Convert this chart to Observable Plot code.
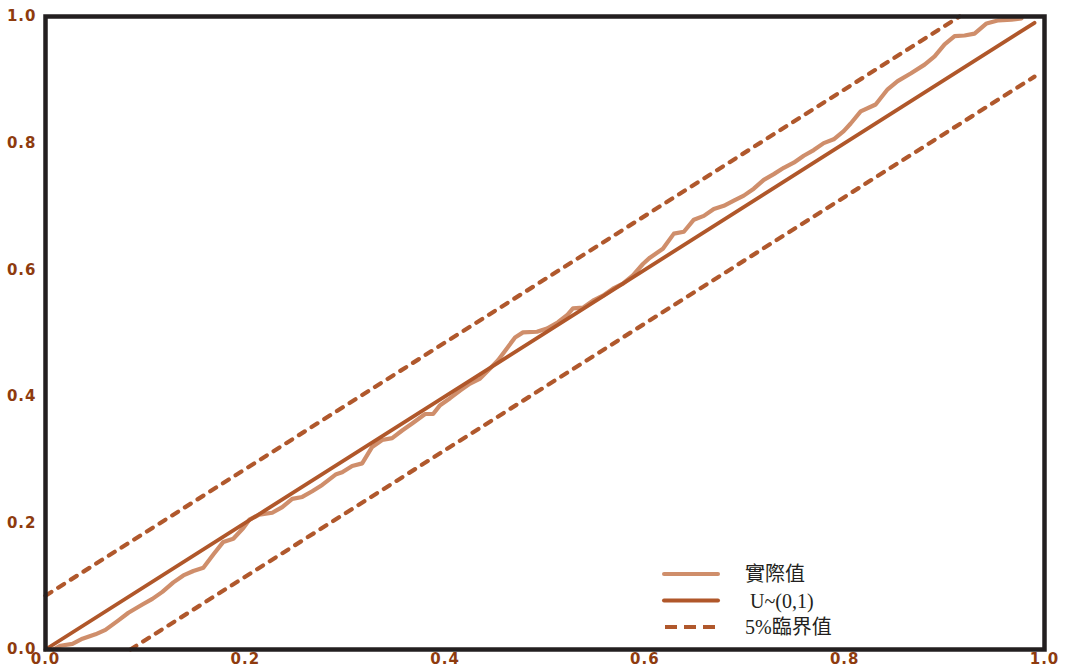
<!DOCTYPE html>
<html>
<head>
<meta charset="utf-8">
<script src="https://cdn.jsdelivr.net/npm/d3@7"></script>
<script src="https://cdn.jsdelivr.net/npm/@observablehq/plot@0.6"></script>
<style>
  html, body { margin: 0; padding: 0; background: #fff; }
  #wrap { position: relative; width: 1066px; height: 667px; }
  #legend { position: absolute; left: 655px; top: 556px; }
</style>
</head>
<body>
<div id="wrap"></div>
<script>
// ---- data ----
const actualX = [0.008,0.015,0.027,0.037,0.050,0.060,0.073,0.083,0.097,0.107,0.117,0.128,0.138,0.148,0.158,0.168,0.178,0.188,0.198,0.204,0.214,0.227,0.237,0.247,0.257,0.267,0.277,0.291,0.297,0.307,0.317,0.327,0.337,0.347,0.357,0.367,0.380,0.388,0.395,0.405,0.415,0.425,0.435,0.445,0.453,0.462,0.470,0.478,0.492,0.502,0.513,0.522,0.528,0.538,0.548,0.558,0.568,0.578,0.588,0.598,0.605,0.618,0.629,0.639,0.649,0.659,0.669,0.679,0.689,0.699,0.709,0.719,0.729,0.739,0.749,0.759,0.769,0.779,0.789,0.799,0.806,0.816,0.831,0.843,0.853,0.866,0.880,0.890,0.900,0.910,0.920,0.930,0.942,0.954,0.967,0.977];
const actualY = [0.000,0.006,0.009,0.017,0.024,0.031,0.046,0.058,0.071,0.080,0.091,0.106,0.117,0.124,0.129,0.150,0.170,0.175,0.192,0.205,0.213,0.216,0.225,0.238,0.241,0.250,0.260,0.277,0.280,0.290,0.294,0.320,0.331,0.334,0.346,0.357,0.372,0.372,0.386,0.397,0.409,0.420,0.428,0.444,0.457,0.476,0.493,0.501,0.502,0.507,0.517,0.528,0.539,0.540,0.551,0.559,0.570,0.578,0.591,0.609,0.619,0.633,0.657,0.660,0.679,0.685,0.696,0.701,0.709,0.717,0.728,0.742,0.751,0.761,0.769,0.780,0.789,0.800,0.806,0.819,0.831,0.850,0.861,0.885,0.898,0.910,0.924,0.937,0.956,0.969,0.970,0.973,0.989,0.994,0.995,0.997];
const uniformX = [0, 0.99];
const uniformY = [0, 0.99];
const upperX = [0, 0.915];
const upperY = [0.085, 1.0];
const lowerX = [0.085, 0.99];
const lowerY = [0, 0.905];
const xTicks = [0, 0.2, 0.4, 0.6, 0.8, 1.0];
const yTicks = [0, 0.2, 0.4, 0.6, 0.8, 1.0];
const legendLabels = ["實際值", " U~(0,1)", "5%臨界值"];

// ---- styles ----
const cActual = "#cf8e6b";
const cUniform = "#b0572a";
const cCrit = "#b0582c";
const cLabel = "#8e3b0e";

const toPts = (xs, ys) => xs.map((x, i) => ({x, y: ys[i]}));
const actual = toPts(actualX, actualY);
const uniform = toPts(uniformX, uniformY);
const upper = toPts(upperX, upperY);
const lower = toPts(lowerX, lowerY);

const fmt = d3.format(".1f");
const axisFont = {fill: cLabel, fontSize: 15, fontWeight: 900, fontFamily: "'DejaVu Sans', sans-serif"};

const chart = Plot.plot({
  width: 1066,
  height: 667,
  marginLeft: 45,
  marginRight: 22,
  marginTop: 16,
  marginBottom: 18,
  style: {background: "#fff"},
  x: {domain: [0, 1], label: null},
  y: {domain: [0, 1], label: null},
  marks: [
    Plot.line(upper, {x: "x", y: "y", stroke: cCrit, strokeWidth: 4.2, strokeDasharray: "7,8", strokeLinecap: "round"}),
    Plot.line(lower, {x: "x", y: "y", stroke: cCrit, strokeWidth: 4.2, strokeDasharray: "7,8", strokeLinecap: "round"}),
    Plot.line(actual, {x: "x", y: "y", stroke: cActual, strokeWidth: 4.2, strokeLinejoin: "round", strokeLinecap: "round"}),
    Plot.line(uniform, {x: "x", y: "y", stroke: cUniform, strokeWidth: 3.8, strokeLinecap: "round"}),
    Plot.frame({stroke: "#231f20", strokeWidth: 4.5}),
    Plot.axisX({ticks: xTicks, tickFormat: fmt, tickSize: 0, tickPadding: 4, label: null, ...axisFont}),
    Plot.axisY({ticks: yTicks, tickFormat: fmt, tickSize: 0, tickPadding: 9, label: null, ...axisFont})
  ]
});
const wrap = document.getElementById("wrap");
wrap.appendChild(chart);
chart.querySelectorAll("text").forEach(t => t.style.letterSpacing = "1px");

// ---- legend (overlay) ----
const ns = "http://www.w3.org/2000/svg";
const lg = document.createElementNS(ns, "svg");
lg.setAttribute("id", "legend");
lg.setAttribute("width", 220);
lg.setAttribute("height", 88);
const rows = [
  {label: legendLabels[0], stroke: cActual, dash: null},
  {label: legendLabels[1], stroke: cUniform, dash: null},
  {label: legendLabels[2], stroke: cCrit, dash: "12,7"}
];
rows.forEach((r, i) => {
  const cy = 18 + i * 26.5;
  const l = document.createElementNS(ns, "line");
  l.setAttribute("x1", 9); l.setAttribute("x2", 63);
  l.setAttribute("y1", cy); l.setAttribute("y2", cy);
  l.setAttribute("stroke", r.stroke);
  l.setAttribute("stroke-width", 4);
  l.setAttribute("stroke-linecap", "round");
  if (r.dash) { l.setAttribute("stroke-dasharray", r.dash); l.setAttribute("stroke-linecap", "butt"); l.setAttribute("x1", 10); l.setAttribute("x2", 66); }
  lg.appendChild(l);
  const t = document.createElementNS(ns, "text");
  t.setAttribute("x", 90);
  t.setAttribute("y", cy);
  t.setAttribute("dy", "0.35em");
  t.setAttribute("fill", "#231f20");
  t.setAttribute("font-size", 20);
  t.setAttribute("font-family", "'Liberation Serif', 'Noto Sans CJK TC', serif");
  t.setAttribute("xml:space", "preserve");
  t.style.whiteSpace = "pre";
  t.textContent = r.label;
  lg.appendChild(t);
});
wrap.appendChild(lg);
</script>
</body>
</html>
